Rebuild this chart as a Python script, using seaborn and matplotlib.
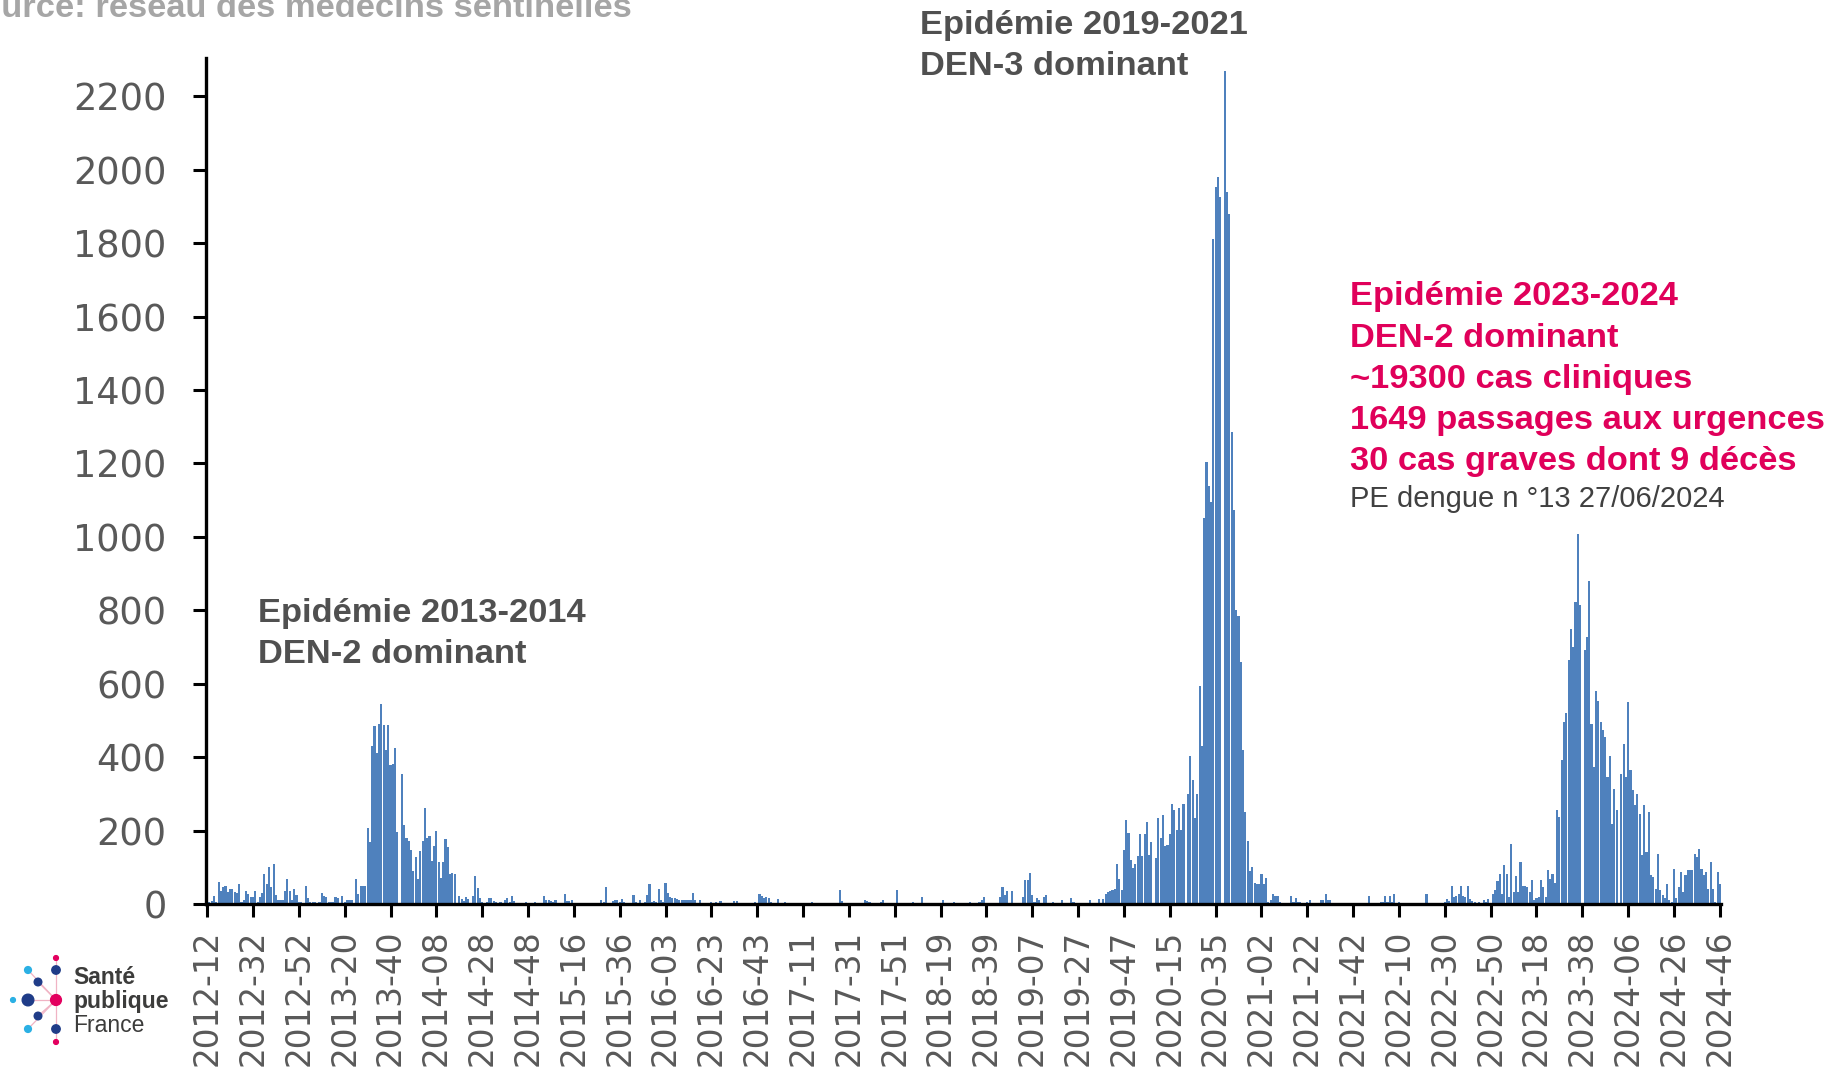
import matplotlib
matplotlib.use("Agg")
import matplotlib.pyplot as plt
import seaborn as sns
import pandas as pd
from matplotlib.patches import Circle

# ---------------- data: weekly clinical dengue cases (sentinel GPs) ----------------
first_week = {2012: 12}
last_week = {2012: 52, 2013: 52, 2014: 52, 2015: 53, 2016: 52, 2017: 52, 2018: 52,
             2019: 52, 2020: 53, 2021: 52, 2022: 52, 2023: 52, 2024: 46}

cases_2012 = [3, 5, 8, 21, 5, 60, 36, 45, 49, 32, 40, 40, 32, 30, 55, 5, 10, 35, 27, 18,
              18, 35, 5, 18, 30, 82, 55, 100, 45, 110, 25, 10, 10, 10, 35, 68, 35, 10, 40, 25, 5]
cases_2013 = [5, 3, 50, 15, 5, 5, 5, 3, 5, 30, 22, 20, 5, 5, 5, 20, 15, 3, 21, 5,
              12, 12, 12, 3, 69, 26, 48, 48, 48, 207, 169, 430, 484, 410, 490, 546, 488, 420, 488, 378,
              382, 424, 195, 0, 353, 214, 181, 172, 147, 90, 128, 67]
cases_2014 = [144, 172, 261, 181, 186, 118, 159, 200, 114, 72, 114, 177, 155, 82, 85, 82, 0, 23, 14, 8,
              18, 14, 0, 21, 77, 43, 17, 5, 3, 5, 16, 16, 8, 5, 3, 5, 3, 12, 17, 5,
              23, 8, 0, 0, 0, 0, 5, 0, 0, 0, 5, 0]
cases_2015 = [0, 3, 21, 12, 10, 8, 5, 10, 0, 0, 0, 28, 8, 8, 12, 3, 0, 0, 0, 0,
              0, 0, 0, 0, 0, 0, 0, 12, 5, 47, 3, 3, 8, 10, 12, 5, 14, 6, 0, 0,
              0, 25, 5, 0, 10, 3, 5, 25, 55, 5, 8, 5, 40]
cases_2016 = [10, 5, 57, 30, 18, 15, 15, 13, 10, 12, 10, 12, 10, 10, 30, 10, 3, 12, 3, 0,
              0, 0, 5, 0, 5, 3, 8, 3, 0, 0, 0, 3, 8, 8, 0, 0, 0, 0, 0, 0,
              0, 5, 3, 27, 23, 15, 20, 17, 5, 0, 0, 14]
cases_2017 = [3, 0, 5, 0, 0, 0, 0, 0, 0, 0, 0, 0, 0, 0, 5, 0, 0, 0, 0, 0,
              0, 0, 0, 0, 0, 0, 39, 8, 0, 0, 0, 0, 0, 0, 0, 0, 0, 10, 8, 5,
              0, 0, 0, 3, 5, 12, 0, 0, 0, 0, 0, 37]
cases_2018 = [0, 0, 0, 0, 0, 0, 5, 0, 0, 0, 18, 0, 0, 0, 0, 0, 0, 0, 0, 10,
              0, 0, 0, 0, 5, 0, 0, 0, 0, 0, 0, 5, 0, 0, 0, 5, 10, 18, 0, 0,
              0, 0, 0, 0, 18, 45, 25, 35, 0, 35, 0, 0]
cases_2019 = [0, 0, 20, 65, 65, 85, 25, 5, 15, 10, 0, 20, 25, 0, 0, 5, 0, 0, 0, 10,
              0, 0, 0, 15, 5, 0, 0, 0, 0, 0, 0, 10, 0, 0, 0, 14, 0, 14, 26, 32,
              36, 38, 40, 108, 69, 38, 146, 230, 194, 119, 99, 109]
cases_2020 = [131, 192, 131, 192, 223, 133, 169, 0, 126, 235, 180, 242, 157, 160, 192, 271, 255, 202, 262, 202,
              271, 0, 299, 402, 337, 235, 299, 593, 430, 1050, 1205, 1139, 1095, 1810, 1953, 1980, 1925, 0, 2268, 1940,
              1880, 1286, 1072, 800, 785, 659, 420, 250, 172, 90, 100, 57, 55]
cases_2021 = [55, 82, 55, 70, 5, 11, 26, 21, 21, 6, 0, 0, 0, 0, 21, 5, 15, 5, 5, 0,
              0, 5, 10, 0, 0, 0, 0, 10, 10, 28, 10, 10, 0, 0, 0, 0, 0, 0, 0, 0,
              0, 0, 0, 0, 0, 0, 0, 0, 21, 0, 0, 0]
cases_2022 = [0, 5, 5, 21, 5, 21, 5, 28, 0, 5, 0, 0, 0, 0, 0, 0, 0, 0, 0, 0,
              0, 28, 0, 0, 0, 0, 0, 0, 0, 5, 14, 8, 48, 18, 21, 28, 48, 21, 18, 48,
              14, 8, 5, 0, 5, 3, 10, 5, 14, 0, 28, 37]
cases_2023 = [64, 82, 28, 107, 82, 20, 163, 33, 76, 33, 114, 50, 50, 46, 33, 65, 10, 15, 19, 65,
              47, 19, 92, 69, 83, 56, 255, 237, 392, 496, 519, 664, 750, 700, 823, 1009, 814, 0, 691, 727,
              881, 491, 373, 581, 554, 496, 473, 454, 346, 402, 218, 313]
cases_2024 = [255, 0, 355, 436, 346, 549, 364, 310, 269, 300, 246, 133, 269, 142, 251, 78, 74, 42, 137, 37,
              24, 15, 55, 10, 5, 96, 15, 46, 87, 33, 78, 92, 92, 92, 137, 128, 151, 96, 78, 87,
              42, 114, 42, 5, 87, 55]

yearly = {2012: cases_2012, 2013: cases_2013, 2014: cases_2014, 2015: cases_2015,
          2016: cases_2016, 2017: cases_2017, 2018: cases_2018, 2019: cases_2019,
          2020: cases_2020, 2021: cases_2021, 2022: cases_2022, 2023: cases_2023,
          2024: cases_2024}

weeks, values = [], []
for yr, vals in yearly.items():
    wk = list(range(first_week.get(yr, 1), last_week[yr] + 1))
    assert len(wk) == len(vals), (yr, len(wk), len(vals))
    weeks += [f"{yr}-{w:02d}" for w in wk]
    values += vals

df = pd.DataFrame({"semaine": weeks, "cas": values})

y_ticks = list(range(0, 2201, 200))
tick_step = 20

annot_left = ["Epidémie 2013-2014", "DEN-2 dominant"]
annot_top = ["Epidémie 2019-2021", "DEN-3 dominant"]
annot_pink = ["Epidémie 2023-2024", "DEN-2 dominant", "~19300 cas cliniques",
              "1649 passages aux urgences", "30 cas graves dont 9 décès"]
annot_note = "PE dengue n °13 27/06/2024"
source_txt = "Source: réseau des médecins sentinelles"

# ---------------- figure ----------------
W, H = 1833, 1071
sns.set_theme(style="white")
plt.rcParams["font.family"] = ["DejaVu Sans"]

fig = plt.figure(figsize=(W / 100, H / 100), dpi=100)
fig.patch.set_facecolor("white")


def fx(x):
    return x / W


def fy(y):
    return 1 - y / H


ax = fig.add_axes([fx(206), fy(904), (1721 - 206) / W, (904 - 58) / H])
sns.barplot(data=df, x="semaine", y="cas", order=weeks, color="#4F81BD",
            saturation=1, width=0.92, errorbar=None, linewidth=0, ax=ax)

ax.set_xlim(-0.5, len(weeks) - 0.5)
ax.set_ylim(0, 2304)
ax.set_yticks(y_ticks)
ax.set_yticklabels([str(v) for v in y_ticks])
pos = list(range(0, len(weeks), tick_step))
ax.set_xticks(pos)
ax.set_xticklabels([weeks[p] for p in pos], rotation=90)
ax.set_xlabel("")
ax.set_ylabel("")
ax.grid(False)
ax.tick_params(axis="both", direction="out", length=9.4, width=2.2, color="black",
               labelcolor="#595959", labelsize=26.5)
ax.tick_params(axis="x", pad=9, bottom=True, labelsize=23.5)
ax.tick_params(axis="y", pad=19, left=True)
for s in ["top", "right"]:
    ax.spines[s].set_visible(False)
for s in ["left", "bottom"]:
    ax.spines[s].set_linewidth(2.4)
    ax.spines[s].set_color("black")

# ---------------- annotations ----------------
bold = dict(family=["Liberation Sans", "DejaVu Sans"], fontweight="bold", fontsize=24.8,
            va="baseline", ha="left")
for txt, yb in zip(annot_left, [622, 663]):
    fig.text(fx(258), fy(yb), txt, color="#505050", **bold)
for txt, yb in zip(annot_top, [34, 75]):
    fig.text(fx(920), fy(yb), txt, color="#505050", **bold)
for txt, yb in zip(annot_pink, [305, 347, 388, 429, 470]):
    fig.text(fx(1350), fy(yb), txt, color="#E0005A", **bold)
fig.text(fx(1350), fy(507), annot_note, color="#404040", fontsize=21,
         family=["Liberation Sans", "DejaVu Sans"], va="baseline", ha="left")
fig.text(fx(632), fy(17), source_txt, color="#A6A6A6", ha="right", va="baseline",
         family=["Liberation Sans", "DejaVu Sans"], fontweight="bold", fontsize=24.8)

# ---------------- logo Santé publique France ----------------
lax = fig.add_axes([0, 0, 1, 1])
lax.set_xlim(0, W)
lax.set_ylim(H, 0)
lax.axis("off")
lax.patch.set_visible(False)
navy, cyan, pink = "#1F3C88", "#2BB0E4", "#E3005F"
center = (56, 1000)
for p in [(38, 982), (28, 1000), (38, 1016), (28, 970), (28, 1029)]:
    lax.plot([p[0], center[0]], [p[1], center[1]], color="#F0B3C4", lw=0.9, zorder=1)
lax.plot([56, 56], [958, 1042], color="#F0B3C4", lw=0.9, zorder=1)
dots = [((56, 958), 2.4, pink), ((56, 970), 4.2, navy), ((28, 970), 3.4, cyan),
        ((38, 982), 3.8, navy), ((13, 1000), 2.4, cyan), ((28, 1000), 5.8, navy),
        ((56, 1000), 5.4, pink), ((38, 1016), 3.8, navy), ((28, 1029), 3.4, cyan),
        ((56, 1029), 4.2, navy), ((56, 1042), 2.4, pink)]
for c, r, col in dots:
    lax.add_patch(Circle(c, r, color=col, zorder=2))
logo_font = ["Liberation Sans", "DejaVu Sans"]
fig.text(fx(73), fy(984), "Santé", color="#3C3C3B", fontsize=16.5, fontweight="bold",
         family=logo_font, va="baseline")
fig.text(fx(73), fy(1008), "publique", color="#3C3C3B", fontsize=16.5, fontweight="bold",
         family=logo_font, va="baseline")
fig.text(fx(73), fy(1032), "France", color="#3C3C3B", fontsize=16.5,
         family=logo_font, va="baseline")

fig.savefig("out.png", dpi=100, facecolor="white")
